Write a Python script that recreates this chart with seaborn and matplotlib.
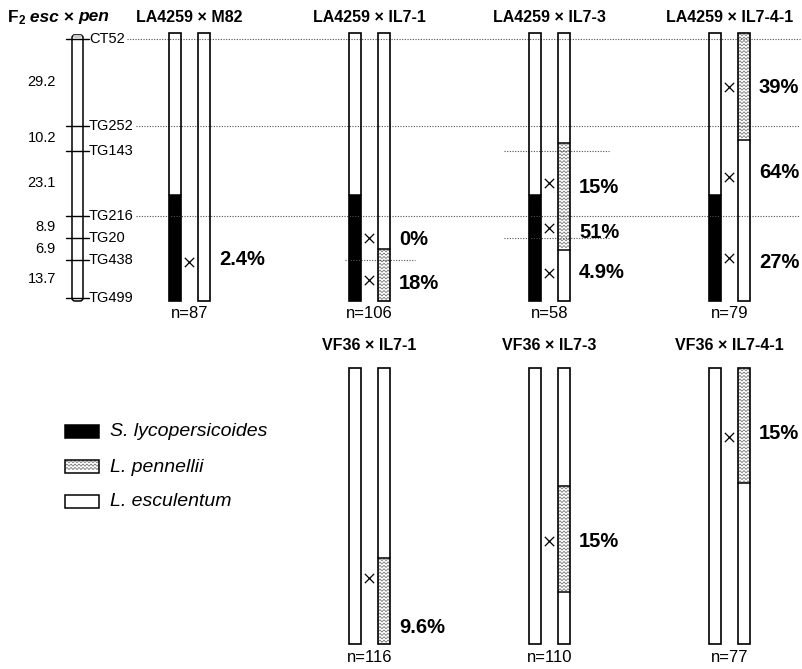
import numpy as np
import pandas as pd
import seaborn as sns
import matplotlib
matplotlib.use('Agg')
import matplotlib.pyplot as plt
from matplotlib.patches import Rectangle, FancyBboxPatch
from matplotlib.collections import LineCollection

# genetic map of chromosome 7 (F2 esc x pen), positions as fraction of bar length
markers = ['CT52', 'TG252', 'TG143', 'TG216', 'TG20', 'TG438', 'TG499']
marker_pos = [0.022, 0.347, 0.440, 0.683, 0.765, 0.847, 0.989]
map_dist = ['29.2', '10.2', '23.1', '8.9', '6.9', '13.7']
guide_markers = ['CT52', 'TG252', 'TG216']

# upper row: LA4259 crosses
top_titles = ['LA4259 × M82', 'LA4259 × IL7-1', 'LA4259 × IL7-3', 'LA4259 × IL7-4-1']
top_n = [87, 106, 58, 79]
top_lyc = [(0.604, 1.0), (0.604, 1.0), (0.604, 1.0), (0.604, 1.0)]
top_pen = [None, (0.806, 1.0), (0.410, 0.810), (0.0, 0.399)]
top_pct = [['2.4%'], ['0%', '18%'], ['15%', '51%', '4.9%'], ['39%', '64%', '27%']]
top_pct_pos = [[0.847], [0.772, 0.933], [0.578, 0.743, 0.892], [0.205, 0.522, 0.858]]
top_cross_pos = [[0.854], [0.765, 0.922], [0.560, 0.728, 0.896], [0.201, 0.537, 0.840]]
top_flank = [[], ['TG438'], ['TG143', 'TG20'], []]

# lower row: VF36 crosses
bot_titles = ['VF36 × IL7-1', 'VF36 × IL7-3', 'VF36 × IL7-4-1']
bot_n = [116, 110, 77]
bot_pen = [(0.688, 1.0), (0.428, 0.812), (0.0, 0.417)]
bot_pct = ['9.6%', '15%', '15%']
bot_pct_pos = [0.942, 0.630, 0.236]
bot_cross_pos = [0.761, 0.627, 0.250]

legend_labels = ['S. lycopersicoides', 'L. pennellii', 'L. esculentum']

# layout (pixels)
W, H = 803, 669
top_x = [169, 349, 529, 709]
bot_x = [349, 529, 709]
top_y0, top_len = 33, 268
bot_y0, bot_len = 368, 276
bar_w, bar_gap = 12, 29
flank_span = {1: (-4, 66), 2: (-25, 80)}

sns.set_style('white')
plt.rcParams['font.family'] = ['Liberation Sans', 'DejaVu Sans']
plt.rcParams['text.color'] = 'black'

fig = plt.figure(figsize=(W / 100, H / 100), dpi=100)
ax = fig.add_axes([0, 0, 1, 1])
ax.set_xlim(0, W)
ax.set_ylim(H, 0)
ax.axis('off')
r = fig.canvas.get_renderer()

dot = dict(color='#505050', lw=0.8, linestyle=(0, (1, 1.4)), zorder=3)


def zigzag(x0, x1, y0, y1, step=3.4, period=4.0, amp=1.1):
    xs = np.arange(x0, x1 + 0.01, period / 2)
    off = np.where(np.arange(len(xs)) % 2 == 0, amp, -amp)
    segs = []
    for yy in np.arange(y0 + amp + 0.6, y1 - amp, step):
        segs.append(np.column_stack([xs, np.clip(yy + off, y0, y1)]))
    ax.add_collection(LineCollection(segs, colors='#6a6a6a', linewidths=0.55, zorder=3))


def chromosome(x, y0, length, lyc=None, pen=None):
    ax.add_patch(Rectangle((x, y0), bar_w, length, fc='white', ec='none', zorder=2))
    for seg, kind in ((lyc, 'lyc'), (pen, 'pen')):
        if seg is None:
            continue
        a, b = y0 + seg[0] * length, y0 + seg[1] * length
        if kind == 'lyc':
            ax.add_patch(Rectangle((x, a), bar_w, b - a, fc='black', ec='none', zorder=2))
        else:
            zigzag(x, x + bar_w, a, b)
        for yy in (a, b):
            if y0 < yy < y0 + length:
                ax.plot([x, x + bar_w], [yy, yy], color='black', lw=1.1, zorder=4)
    ax.add_patch(Rectangle((x, y0), bar_w, length, fill=False, ec='black', lw=1.2, zorder=4))


def ty(f):
    return top_y0 + f * top_len


# header
x = 8
for s, kw, dy in [('F', dict(size=12.5, weight='bold'), 0),
                  ('2', dict(size=8.5, weight='bold'), 4),
                  (' esc', dict(size=12.5, weight='bold', style='italic'), 0),
                  (' × ', dict(size=12.5, weight='bold'), 0),
                  ('pen', dict(size=12.5, weight='bold', style='italic'), 0)]:
    t = ax.text(x, 17 + dy, s, va='center', ha='left', **kw)
    x += t.get_window_extent(r).width

# map chromosome
ax.add_patch(FancyBboxPatch((72, ty(0.007)), 11, ty(1.0) - ty(0.007),
                            boxstyle='round,pad=0,rounding_size=3', fc='white', ec='black', lw=1.1, zorder=2))
ax.add_patch(FancyBboxPatch((73, ty(0.007)), 9, 3, boxstyle='round,pad=0,rounding_size=2',
                            fc='#c8c8c8', ec='none', zorder=3))
label_end = {}
for m, p in zip(markers, marker_pos):
    ax.plot([66, 89], [ty(p), ty(p)], color='black', lw=1.0, zorder=4)
    t = ax.text(89, ty(p), m, va='center', ha='left', size=10.5)
    label_end[m] = t.get_window_extent(r).x1
for d, p0, p1 in zip(map_dist, marker_pos[:-1], marker_pos[1:]):
    ax.text(56, ty((p0 + p1) / 2), d, va='center', ha='right', size=10.5)
for m in guide_markers:
    p = marker_pos[markers.index(m)]
    ax.plot([label_end[m] + 2, 800], [ty(p), ty(p)], **dot)

# crosses and percentages
cross_rows = []
for i, x0 in enumerate(top_x):
    chromosome(x0, top_y0, top_len, lyc=top_lyc[i])
    chromosome(x0 + bar_gap, top_y0, top_len, pen=top_pen[i])
    cx = x0 + (bar_w + bar_gap) / 2
    ax.text(cx, 17, top_titles[i], ha='center', va='center', size=11.5, weight='bold')
    ax.text(cx, top_y0 + top_len + 12, f'n={top_n[i]}', ha='center', va='center', size=12)
    for lab, p in zip(top_pct[i], top_pct_pos[i]):
        ax.text(x0 + bar_gap + bar_w + 9, ty(p), lab, ha='left', va='center', size=14.5, weight='bold')
    for p in top_cross_pos[i]:
        cross_rows.append((cx, ty(p)))
    for m in top_flank[i]:
        p = marker_pos[markers.index(m)]
        a, b = flank_span[i]
        ax.plot([x0 + a, x0 + b], [ty(p), ty(p)], **dot)

for i, x0 in enumerate(bot_x):
    chromosome(x0, bot_y0, bot_len)
    chromosome(x0 + bar_gap, bot_y0, bot_len, pen=bot_pen[i])
    cx = x0 + (bar_w + bar_gap) / 2
    ax.text(cx, 346, bot_titles[i], ha='center', va='center', size=11.5, weight='bold')
    ax.text(cx, bot_y0 + bot_len + 14, f'n={bot_n[i]}', ha='center', va='center', size=12)
    ax.text(x0 + bar_gap + bar_w + 9, bot_y0 + bot_pct_pos[i] * bot_len, bot_pct[i],
            ha='left', va='center', size=14.5, weight='bold')
    cross_rows.append((cx, bot_y0 + bot_cross_pos[i] * bot_len))

crosses = pd.DataFrame(cross_rows, columns=['x', 'y'])
sns.scatterplot(data=crosses, x='x', y='y', marker='x', s=45, color='black',
                linewidth=0.9, legend=False, ax=ax, zorder=5)

# legend
for k, lab in enumerate(legend_labels):
    y = 425 + 35 * k
    fc = 'black' if k == 0 else 'white'
    ax.add_patch(Rectangle((65, y), 34, 13, fc=fc, ec='none', zorder=2))
    if k == 1:
        zigzag(65, 99, y, y + 13)
    ax.add_patch(Rectangle((65, y), 34, 13, fill=False, ec='black', lw=1.1, zorder=4))
    ax.text(110, y + 7, lab, ha='left', va='center', size=14, style='italic')

ax.set_xlim(0, W)
ax.set_ylim(H, 0)
ax.axis('off')
fig.savefig('out.png', dpi=100)
